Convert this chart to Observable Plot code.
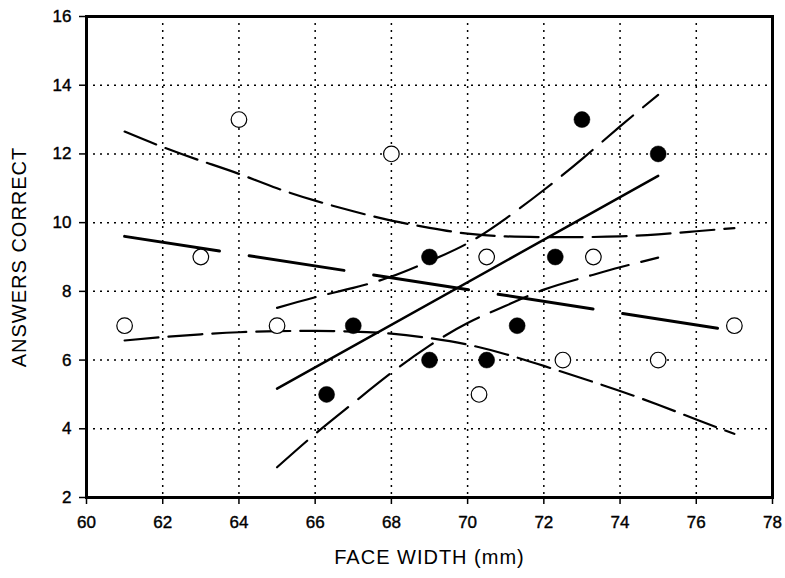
<!DOCTYPE html>
<html><head><meta charset="utf-8">
<script src="https://cdn.jsdelivr.net/npm/d3@7"></script>
<script src="https://cdn.jsdelivr.net/npm/@observablehq/plot@0.6"></script>
<style>body{margin:0;background:#fff}</style>
</head><body><div id="chart"></div>
<script>
// Scatter points
const openX = [61, 63, 64, 65, 68, 70.3, 70.5, 72.5, 73.3, 75, 77];
const openY = [7, 9, 13, 7, 12, 5, 9, 6, 9, 6, 7];
const filledX = [66.3, 67, 69, 69, 70.5, 71.3, 72.3, 73, 75];
const filledY = [5, 7, 9, 6, 6, 7, 9, 13, 12];

// Regression lines
const filledFitX = [65, 75];
const filledFitY = [5.17, 11.36];
const openFitX = [61, 77];
const openFitY = [9.6, 6.85];

// Confidence bands
const filledBandX = [65, 66, 67, 68, 69, 70, 71, 72, 73, 74, 75];
const filledUpper = [7.52, 7.83, 8.1, 8.43, 8.88, 9.4, 10.12, 10.95, 11.85, 12.8, 13.72];
const filledLower = [2.88, 3.85, 4.75, 5.63, 6.42, 7.08, 7.58, 8.05, 8.39, 8.7, 8.98];
const openBandX = [61, 62, 63, 64, 65, 66, 67, 68, 69, 70, 71, 72, 73, 74, 75, 76, 77];
const openUpper = [12.65, 12.2, 11.8, 11.42, 11.0, 10.64, 10.33, 10.06, 9.85, 9.68, 9.6, 9.58, 9.58, 9.6, 9.66, 9.75, 9.84];
const openLower = [6.57, 6.67, 6.75, 6.81, 6.84, 6.85, 6.83, 6.77, 6.64, 6.45, 6.17, 5.83, 5.47, 5.1, 4.7, 4.27, 3.85];

// Ticks and labels
const xTicks = [60, 62, 64, 66, 68, 70, 72, 74, 76, 78];
const yTicks = [2, 4, 6, 8, 10, 12, 14, 16];
const xTitle = "FACE WIDTH (mm)";
const yTitle = "ANSWERS CORRECT";

const pts = (xs, ys) => xs.map((x, i) => ({x, y: ys[i]}));
const font = '"Liberation Sans", Arial, Helvetica, sans-serif';

const chart = Plot.plot({
  width: 785, height: 578,
  marginLeft: 86, marginRight: 13, marginTop: 16, marginBottom: 81,
  style: {fontFamily: font, background: "#fff", color: "#000"},
  x: {domain: [60, 78]},
  y: {domain: [2, 16]},
  marks: [
    Plot.gridX(xTicks, {stroke: "#000", strokeOpacity: 1, strokeWidth: 1.5, strokeDasharray: "2,5"}),
    Plot.gridY(yTicks, {stroke: "#000", strokeOpacity: 1, strokeWidth: 1.5, strokeDasharray: "2,5"}),
    Plot.line(pts(openBandX, openUpper), {x: "x", y: "y", curve: "natural", stroke: "#000", strokeWidth: 2.2, strokeDasharray: "34,10"}),
    Plot.line(pts(openBandX, openLower), {x: "x", y: "y", curve: "natural", stroke: "#000", strokeWidth: 2.2, strokeDasharray: "34,10"}),
    Plot.line(pts(filledBandX, filledUpper), {x: "x", y: "y", curve: "natural", stroke: "#000", strokeWidth: 2.2, strokeDasharray: "40,13"}),
    Plot.line(pts(filledBandX, filledLower), {x: "x", y: "y", curve: "natural", stroke: "#000", strokeWidth: 2.2, strokeDasharray: "40,13"}),
    Plot.line(pts(openFitX, openFitY), {x: "x", y: "y", stroke: "#000", strokeWidth: 3, strokeDasharray: "96,30"}),
    Plot.line(pts(filledFitX, filledFitY), {x: "x", y: "y", stroke: "#000", strokeWidth: 2.5}),
    Plot.dot(pts(openX, openY), {x: "x", y: "y", r: 7.8, fill: "#fff", stroke: "#000", strokeWidth: 1.2}),
    Plot.dot(pts(filledX, filledY), {x: "x", y: "y", r: 8, fill: "#000", stroke: "#000", strokeWidth: 0.5}),
    Plot.frame({stroke: "#000", strokeWidth: 3}),
    Plot.axisX(xTicks, {tickSize: 7, tickPadding: 11, fontSize: 17, strokeWidth: 1.5,
      label: xTitle, labelAnchor: "center", labelOffset: 66, labelArrow: "none"}),
    Plot.axisY(yTicks, {tickSize: 7, tickPadding: 8, fontSize: 17, strokeWidth: 1.5,
      label: yTitle, labelAnchor: "center", labelOffset: 75, labelArrow: "none"})
  ]
});
chart.querySelectorAll("text").forEach(t => {
  const s = t.textContent.trim();
  if (s === xTitle || s === yTitle) {
    t.style.fontSize = "20px";
    t.style.letterSpacing = "1px";
  } else {
    t.style.fontSize = "17px";
    t.style.stroke = "#000";
    t.style.strokeWidth = "0.4px";
  }
});
document.getElementById("chart").appendChild(chart);
</script>
</body></html>
